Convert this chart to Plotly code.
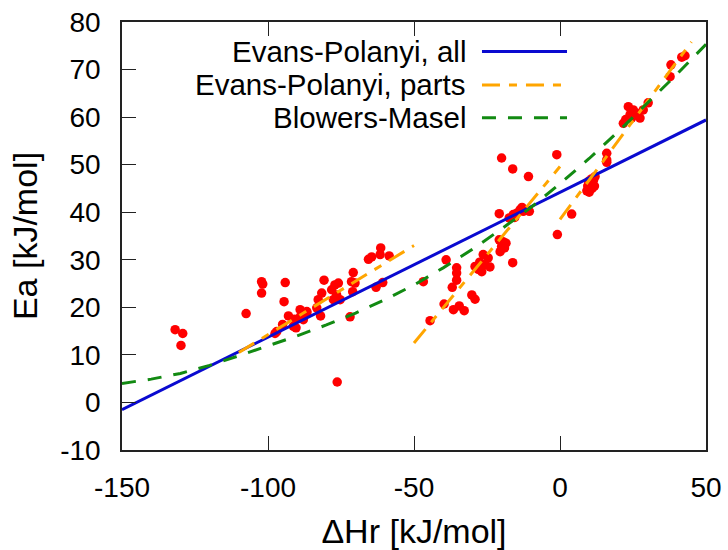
import plotly.graph_objects as go

# ---- data ----
dh = [-131.8, -129.2, -129.8, -107.5, -102.2, -101.8, -102.2, -94.1, -94.5, -95.0,
      -97.6, -97.0, -93.0, -91.3, -90.4, -89.0, -87.9, -86.7, -91.0, -89.0,
      -86.7, -87.9, -83.3, -82.8, -81.6, -80.8, -82.0, -78.2, -77.1, -75.9,
      -76.5, -75.3, -77.6, -70.8, -71.4, -70.2, -71.0, -71.9, -76.3, -65.6,
      -64.5, -61.4, -61.6, -58.5, -63.0, -60.7, -46.8, -44.5,
      -39.7, -39.0, -36.9, -35.4, -35.4, -35.4, -36.5, -34.5, -32.8, -30.2,
      -29.1, -29.1, -28.0, -26.8, -26.3, -24.6, -24.0, -25.7, -27.5,
      -20.8, -19.5, -18.5, -20.5, -20.0, -19.0, -16.2, -20.8, -20.0, -16.2, -10.8,
      -17.4, -16.0, -14.8, -13.7, -12.6, -10.5, -15.5, -13.0, -1.1, -0.9,
      4.0, 9.2, 9.5, 10.0, 10.5, 11.0, 11.5, 12.0, 9.8, 10.8, 11.8,
      16.0, 16.0, 16.0, 21.7, 23.4, 25.1, 24.5, 26.2, 27.4, 28.5, 30.2, 22.5, 24.0,
      37.7, 38.0, 41.7, 42.8]
ea = [15.3, 14.5, 12.0, 18.7, 25.4, 24.9, 23.0, 25.2, 21.2, 16.4,
      14.5, 14.9, 18.2, 16.0, 15.7, 19.5, 17.4, 19.1, 17.5, 18.0,
      18.8, 17.8, 19.9, 21.6, 23.0, 25.7, 18.2, 23.7, 24.7, 25.1,
      22.6, 21.6, 21.6, 27.3, 25.4, 25.1, 23.3, 18.0, 4.3, 30.1,
      30.6, 32.5, 31.1, 30.8, 24.2, 25.2, 25.4, 17.2,
      20.7, 30.0, 24.2, 28.3, 27.2, 25.7, 19.5, 20.3, 19.3, 22.6,
      21.7, 28.6, 28.0, 27.5, 31.1, 30.4, 28.5, 29.0, 29.5,
      34.2, 33.8, 33.5, 31.7, 32.8, 32.5, 29.4, 39.7, 51.4, 49.1, 47.5,
      38.8, 39.5, 39.8, 40.5, 40.2, 40.2, 38.9, 41.0, 52.1, 35.3,
      39.6, 44.5, 45.5, 44.2, 46.0, 45.0, 46.8, 47.5, 46.5, 47.0, 45.5,
      52.4, 51.0, 50.5, 58.7, 62.2, 61.5, 59.8, 60.8, 59.8, 61.5, 63.0, 59.5, 60.5,
      68.5, 71.0, 72.6, 72.9]

ep_all_x = [-150, 50]
ep_all_y = [-1.5, 59.4]

ep_parts_x = [-110, -50, None, -50, 0, None, 0, 45]
ep_parts_y = [10.5, 33.0, None, 12.5, 49.6, None, 38.5, 75.8]

bm_x = [-150, -140, -130, -120, -110, -100, -90, -80, -70, -60, -50, -40, -30, -20, -10, 0, 10, 20, 30, 40, 50]
bm_y = [4.0, 4.9, 6.1, 7.8, 9.8, 11.9, 14.0, 16.3, 18.8, 21.6, 24.7, 28.3, 32.2, 36.5, 41.0, 46.0, 51.3, 57.0, 62.9, 69.0, 75.3]

x_ticks = [-150, -100, -50, 0, 50]
x_tick_text = ["-150", "-100", "-50", "0", "50"]
y_ticks = [-10, 0, 10, 20, 30, 40, 50, 60, 70, 80]
y_tick_text = ["-10", "0", "10", "20", "30", "40", "50", "60", "70", "80"]

legend_labels = ["Evans-Polanyi, all", "Evans-Polanyi, parts", "Blowers-Masel"]

BLUE = "#0a0ad0"
ORANGE = "#ffa500"
GREEN = "#128a12"
ORANGE_DASH = "18px,9px,8px,9px"
GREEN_DASH = "14px,12px"
FONT = "Liberation Sans, Arial, sans-serif"

fig = go.Figure()
fig.add_trace(go.Scatter(x=dh, y=ea, mode="markers",
                         marker=dict(color="#ff0000", size=9.5, line=dict(width=0)),
                         showlegend=False))
fig.add_trace(go.Scatter(x=ep_all_x, y=ep_all_y, mode="lines",
                         line=dict(color=BLUE, width=3), showlegend=False))
fig.add_trace(go.Scatter(x=ep_parts_x, y=ep_parts_y, mode="lines",
                         line=dict(color=ORANGE, width=3, dash=ORANGE_DASH),
                         connectgaps=False, showlegend=False))
fig.add_trace(go.Scatter(x=bm_x, y=bm_y, mode="lines",
                         line=dict(color=GREEN, width=3, dash=GREEN_DASH),
                         showlegend=False))

# gnuplot-style legend: text right-aligned, sample line to the right
rows_y = [0.931, 0.853, 0.776]
styles = [dict(color=BLUE, width=3),
          dict(color=ORANGE, width=3, dash=ORANGE_DASH),
          dict(color=GREEN, width=3, dash=GREEN_DASH)]
for lab, yy, st in zip(legend_labels, rows_y, styles):
    fig.add_annotation(x=0.5925, y=yy, xref="paper", yref="paper", text=lab,
                       showarrow=False, xanchor="right", yanchor="middle",
                       font=dict(family=FONT, size=29.5, color="black"))
    fig.add_shape(type="line", xref="paper", yref="paper",
                  x0=0.6164, x1=0.762, y0=yy, y1=yy, line=st)

fig.update_layout(
    width=728, height=550,
    margin=dict(l=122, r=22, t=22, b=100, autoexpand=False),
    paper_bgcolor="white", plot_bgcolor="white",
    font=dict(family=FONT, size=28, color="black"),
    xaxis=dict(range=[-150, 50], tickvals=x_ticks, ticktext=x_tick_text,
               ticks="inside", ticklen=14, automargin=False,
               tickcolor="#222", showline=True, linecolor="#222", linewidth=1.5,
               mirror="ticks", showgrid=False, zeroline=False,
               ticklabelstandoff=12,
               title=dict(text="ΔHr [kJ/mol]", standoff=26)),
    yaxis=dict(range=[-10, 80], tickvals=y_ticks, ticktext=y_tick_text,
               ticks="inside", ticklen=14, automargin=False,
               tickcolor="#222", showline=True, linecolor="#222", linewidth=1.5,
               mirror=True, showgrid=False, zeroline=False,
               ticklabelstandoff=14,
               title=dict(text="Ea [kJ/mol]", standoff=12)),
)

fig.write_html("out.html")
